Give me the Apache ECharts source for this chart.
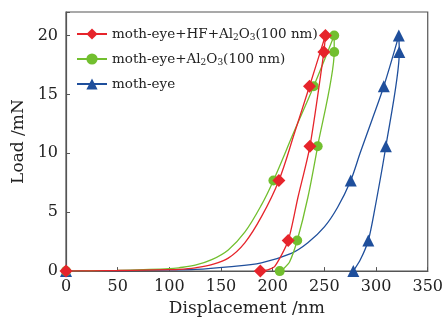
<!DOCTYPE html>
<html>
<head>
<meta charset="utf-8">
<script src="https://cdn.jsdelivr.net/npm/echarts@6/dist/echarts.min.js"></script>
<style>html,body{margin:0;padding:0;background:#fff}#c{width:446px;height:322px}</style>
</head>
<body>
<div id="c"></div>
<script>
const seriesNames = ['moth-eye+HF+Al2O3(100 nm)', 'moth-eye+Al2O3(100 nm)', 'moth-eye'];
const xTicks = [0, 50, 100, 150, 200, 250, 300, 350];
const yTicks = [0, 5, 10, 15, 20];

// moth-eye+HF+Al2O3 (red)
const hfLoadX = [0, 25, 50, 75, 100, 109, 125, 141, 157, 173, 189, 206, 221, 235.6, 251];
const hfLoadY = [0, 0.02, 0.05, 0.09, 0.12, 0.14, 0.28, 0.55, 1.1, 2.4, 4.6, 7.7, 11.7, 15.7, 20];
const hfLoadMark = [1, 0, 0, 0, 0, 0, 0, 0, 0, 0, 0, 1, 0, 1, 1];
const hfUnX = [251, 249.5, 236, 224.4, 215, 202, 195, 188];
const hfUnY = [20, 18.6, 10.6, 6.25, 2.6, 0.4, 0.1, 0];
const hfUnMark = [0, 1, 1, 0, 1, 0, 0, 1];

// moth-eye+Al2O3 (green)
const alLoadX = [0, 25, 50, 75, 100, 109, 125, 141, 157, 173, 189, 200.7, 220, 239.7, 259.5];
const alLoadY = [0, 0.03, 0.06, 0.12, 0.2, 0.28, 0.5, 0.97, 1.8, 3.3, 5.6, 7.7, 11.7, 15.7, 20];
const alLoadMark = [1, 0, 0, 0, 0, 0, 0, 0, 0, 0, 0, 1, 0, 1, 1];
const alUnX = [259.5, 259.5, 243.5, 234, 223.7, 216.4, 211, 206.8];
const alUnY = [20, 18.6, 10.6, 6.25, 2.6, 0.8, 0.25, 0];
const alUnMark = [0, 1, 1, 0, 1, 0, 0, 1];

// moth-eye (blue)
const meLoadX = [0, 50, 100, 125, 157, 189, 218, 234, 250, 262.7, 275.5, 284.5, 296.3, 307.5, 322];
const meLoadY = [0, 0.04, 0.1, 0.14, 0.36, 0.7, 1.5, 2.4, 3.75, 5.4, 7.7, 10, 12.9, 15.7, 20];
const meLoadMark = [1, 0, 0, 0, 0, 0, 0, 0, 0, 0, 1, 0, 0, 1, 1];
const meUnX = [322, 322.5, 309.5, 298, 292.5, 285, 278];
const meUnY = [20, 18.6, 10.6, 4.9, 2.6, 1, 0];
const meUnMark = [0, 1, 1, 0, 1, 0, 1];

const colors = ['#e6242b', '#72bf2f', '#1f4f9c'];
const symbols = ['diamond', 'circle', 'triangle'];
const symbolSizes = [13, 10, 12];

function build(xs, ys, marks) {
  return xs.map((x, i) => marks[i] ? { value: [x, ys[i]] } : { value: [x, ys[i]], symbol: 'none' });
}
function mk(idx, xs, ys, marks, sm) {
  return {
    name: seriesNames[idx],
    type: 'line',
    smooth: sm,
    symbol: symbols[idx],
    symbolSize: symbolSizes[idx],
    showSymbol: true,
    color: colors[idx],
    lineStyle: { width: 1.3, color: colors[idx] },
    itemStyle: { color: colors[idx] },
    data: build(xs, ys, marks),
    z: 5 - idx
  };
}

const subFmt = function (name) {
  return name.replace(/Al2O3/, 'Al{sub|2}O{sub|3}');
};

const chart = echarts.init(document.getElementById('c'));
chart.setOption({
  animation: false,
  backgroundColor: '#fff',
  grid: { left: 66, right: 15, top: 12, bottom: 47, show: true, borderColor: '#555', borderWidth: 1.2 },
  legend: {
    data: seriesNames,
    orient: 'vertical',
    left: 71,
    top: 21,
    itemWidth: 30,
    itemHeight: 14,
    itemGap: 9,
    formatter: subFmt,
    textStyle: {
      fontFamily: 'DejaVu Serif',
      fontSize: 13.5,
      color: '#222',
      lineHeight: 16,
      rich: {
        sub: { fontFamily: 'DejaVu Serif', fontSize: 9, color: '#222', verticalAlign: 'bottom', lineHeight: 10, padding: [6, 0, 0, 0] }
      }
    }
  },
  xAxis: {
    type: 'value',
    min: 0, max: 350, interval: 50,
    name: 'Displacement /nm',
    nameLocation: 'middle',
    nameGap: 28,
    nameTextStyle: { fontFamily: 'DejaVu Serif', fontSize: 17, color: '#222' },
    axisLine: { show: true, lineStyle: { color: '#555', width: 1.2 } },
    axisTick: { show: true, inside: true, length: 4, lineStyle: { color: '#555' } },
    axisLabel: { fontFamily: 'DejaVu Serif', fontSize: 16, color: '#222', margin: 8,
      formatter: v => xTicks.includes(v) ? String(v) : '' },
    splitLine: { show: false }
  },
  yAxis: {
    type: 'value',
    min: 0, max: 22, interval: 5,
    name: 'Load /mN',
    nameLocation: 'middle',
    nameGap: 36,
    nameTextStyle: { fontFamily: 'DejaVu Serif', fontSize: 17, color: '#222' },
    axisLine: { show: true, lineStyle: { color: '#555', width: 1.2 } },
    axisTick: { show: true, inside: true, length: 4, lineStyle: { color: '#555' } },
    axisLabel: { fontFamily: 'DejaVu Serif', fontSize: 16, color: '#222', margin: 8,
      formatter: v => yTicks.includes(v) ? String(v) : '' },
    splitLine: { show: false }
  },
  series: [
    mk(0, hfLoadX, hfLoadY, hfLoadMark, 0.35),
    mk(0, hfUnX, hfUnY, hfUnMark, 0.25),
    mk(1, alLoadX, alLoadY, alLoadMark, 0.35),
    mk(1, alUnX, alUnY, alUnMark, 0.25),
    mk(2, meLoadX, meLoadY, meLoadMark, 0.35),
    mk(2, meUnX, meUnY, meUnMark, 0.25)
  ]
});
</script>
</body>
</html>
